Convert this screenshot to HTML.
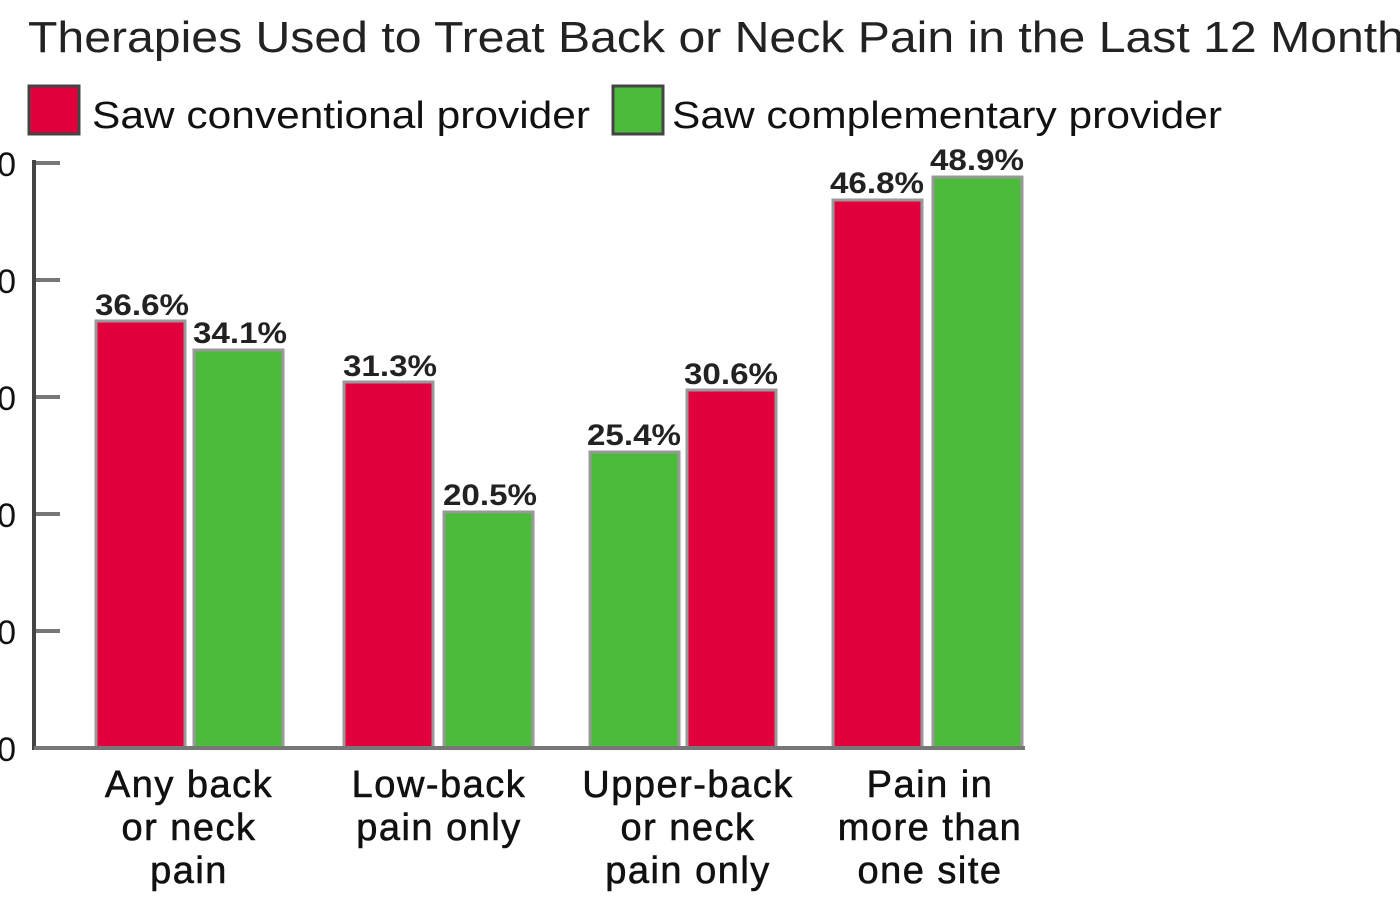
<!DOCTYPE html>
<html><head><style>body{margin:0;background:#fff}</style></head><body>
<svg width="1400" height="900" xmlns="http://www.w3.org/2000/svg" font-family="Liberation Sans, sans-serif">
<rect width="1400" height="900" fill="#fff"/>
<text x="28" y="52" font-size="44" fill="#222" textLength="1400" lengthAdjust="spacingAndGlyphs">Therapies Used to Treat Back or Neck Pain in the Last 12 Months</text>
<rect x="29" y="86" width="50" height="48" fill="#e2003c" stroke="#444" stroke-width="3"/>
<text x="92" y="128" font-size="38" fill="#111" textLength="498" lengthAdjust="spacingAndGlyphs">Saw conventional provider</text>
<rect x="613" y="86" width="50" height="48" fill="#4cbb3c" stroke="#444" stroke-width="3"/>
<text x="672" y="128" font-size="38" fill="#111" textLength="550" lengthAdjust="spacingAndGlyphs">Saw complementary provider</text>
<g font-size="34" fill="#111" text-anchor="end">
<text x="16" y="176">50</text><text x="16" y="293">40</text><text x="16" y="410">30</text>
<text x="16" y="527">20</text><text x="16" y="644">10</text><text x="16" y="761">0</text>
</g>
<g stroke="#777" stroke-width="4">
<line x1="35" y1="163" x2="60" y2="163"/><line x1="35" y1="280" x2="60" y2="280"/>
<line x1="35" y1="397" x2="60" y2="397"/><line x1="35" y1="514" x2="60" y2="514"/>
<line x1="35" y1="631" x2="60" y2="631"/>
</g>
<g stroke="#999" stroke-width="3">
<rect x="96" y="321" width="89" height="427" fill="#e2003c"/>
<rect x="194" y="350" width="89" height="398" fill="#4cbb3c"/>
<rect x="344" y="382" width="89" height="366" fill="#e2003c"/>
<rect x="444" y="512" width="89" height="236" fill="#4cbb3c"/>
<rect x="590" y="452" width="89" height="296" fill="#4cbb3c"/>
<rect x="687" y="390" width="89" height="358" fill="#e2003c"/>
<rect x="833" y="200" width="89" height="548" fill="#e2003c"/>
<rect x="933" y="177" width="89" height="571" fill="#4cbb3c"/>
</g>
<line x1="34" y1="160" x2="34" y2="750" stroke="#444" stroke-width="4"/>
<line x1="34" y1="748" x2="1025" y2="748" stroke="#777" stroke-width="4"/>
<g font-size="30" fill="#222" font-weight="bold">
<text x="95" y="315" textLength="94" lengthAdjust="spacingAndGlyphs">36.6%</text><text x="193" y="343" textLength="94" lengthAdjust="spacingAndGlyphs">34.1%</text>
<text x="343" y="376" textLength="94" lengthAdjust="spacingAndGlyphs">31.3%</text><text x="443" y="505" textLength="94" lengthAdjust="spacingAndGlyphs">20.5%</text>
<text x="587" y="445" textLength="94" lengthAdjust="spacingAndGlyphs">25.4%</text><text x="684" y="384" textLength="94" lengthAdjust="spacingAndGlyphs">30.6%</text>
<text x="830" y="193" textLength="94" lengthAdjust="spacingAndGlyphs">46.8%</text><text x="930" y="170" textLength="94" lengthAdjust="spacingAndGlyphs">48.9%</text>
</g>
<g font-size="38" fill="#111" text-anchor="middle" letter-spacing="1.5" stroke="#111" stroke-width="0.6">
<text x="189" y="797">Any back</text><text x="189" y="840">or neck</text><text x="189" y="883">pain</text>
<text x="439" y="797">Low-back</text><text x="439" y="840">pain only</text>
<text x="688" y="797">Upper-back</text><text x="688" y="840">or neck</text><text x="688" y="883">pain only</text>
<text x="930" y="797">Pain in</text><text x="930" y="840">more than</text><text x="930" y="883">one site</text>
</g>
</svg>
</body></html>
